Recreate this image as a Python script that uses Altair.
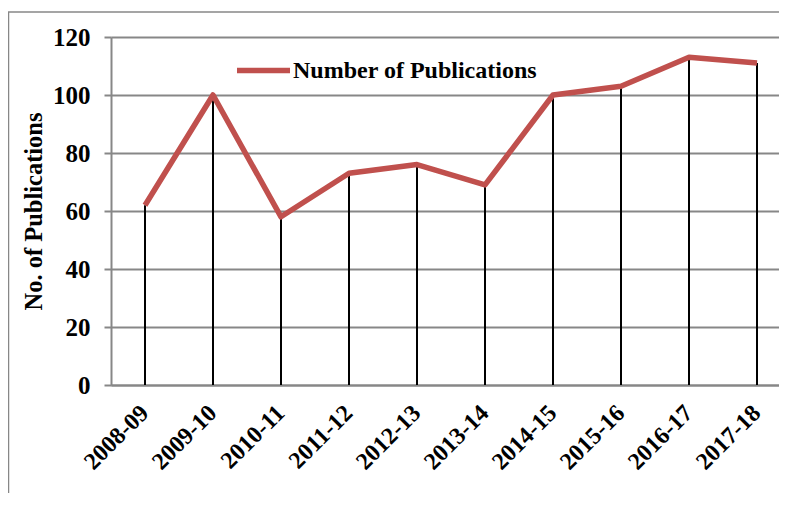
import altair as alt
import pandas as pd

years = ["2008-09", "2009-10", "2010-11", "2011-12", "2012-13",
         "2013-14", "2014-15", "2015-16", "2016-17", "2017-18"]
pubs = [62, 100, 58, 73, 76, 69, 100, 103, 113, 111]
series_name = "Number of Publications"

df = pd.DataFrame({"year": years, "value": pubs, "series": [series_name] * len(years)})

FONT = "Liberation Serif"
GRID = "#878787"

x_enc = alt.X("year:N", sort=years, title=None,
              scale=alt.Scale(range=[0, 680], paddingInner=0, paddingOuter=0),
              axis=alt.Axis(labelAngle=-45, labelAlign="right", labelBaseline="middle",
                            labelFontSize=24, labelFont=FONT, labelFontWeight="bold",
                            labelColor="black", labelPadding=24, ticks=False, grid=False,
                            domainColor=GRID, domainWidth=2))
y_axis = alt.Axis(values=[0, 20, 40, 60, 80, 100, 120], grid=True, gridColor=GRID, gridWidth=2,
                  domainColor=GRID, domainWidth=2, tickColor=GRID, tickWidth=2, tickSize=7,
                  labelFontSize=25, labelFont=FONT, labelFontWeight="bold", labelColor="black",
                  labelPadding=14, title="No. of Publications", titleFontSize=24.5, titleFont=FONT,
                  titleFontWeight="bold", titleColor="black", titlePadding=6)
y_scale = alt.Scale(domain=[0, 120], nice=False)

base = alt.Chart(df)

drops = base.mark_rule(color="black", strokeWidth=2).encode(
    x=x_enc,
    y=alt.Y("value:Q", scale=y_scale, axis=y_axis),
    y2=alt.datum(0),
)

line = base.mark_line(strokeWidth=5.5, strokeJoin="round").encode(
    x=x_enc,
    y=alt.Y("value:Q", scale=y_scale, axis=y_axis),
    color=alt.Color("series:N", scale=alt.Scale(range=["#C0504D"]),
                    legend=alt.Legend(title=None, orient="none", legendX=123, legendY=4,
                                      symbolType="stroke", symbolSize=2809, symbolStrokeWidth=5.5,
                                      labelFont=FONT, labelFontSize=24, labelFontWeight="bold",
                                      labelColor="black", labelOffset=0, padding=0,
                                      labelLimit=400)),
)

border_df = pd.DataFrame({"k": [0]})
left_border = alt.Chart(border_df).mark_rule(color=GRID, strokeWidth=1.5).encode(
    x=alt.value(-102.5), y=alt.value(-25), y2=alt.value(520))
top_border = alt.Chart(border_df).mark_rule(color=GRID, strokeWidth=1.5).encode(
    x=alt.value(-103), x2=alt.value(700), y=alt.value(-25))

chart = alt.layer(left_border, top_border, drops, line).properties(
    width=668, height=348,
    autosize=alt.AutoSizeParams(type="none"),
    padding={"left": 103, "top": 29, "right": 0, "bottom": 108},
).configure_view(stroke=None).configure(background="white")

chart.save("out.html", embed_options={"renderer": "svg", "actions": False})
